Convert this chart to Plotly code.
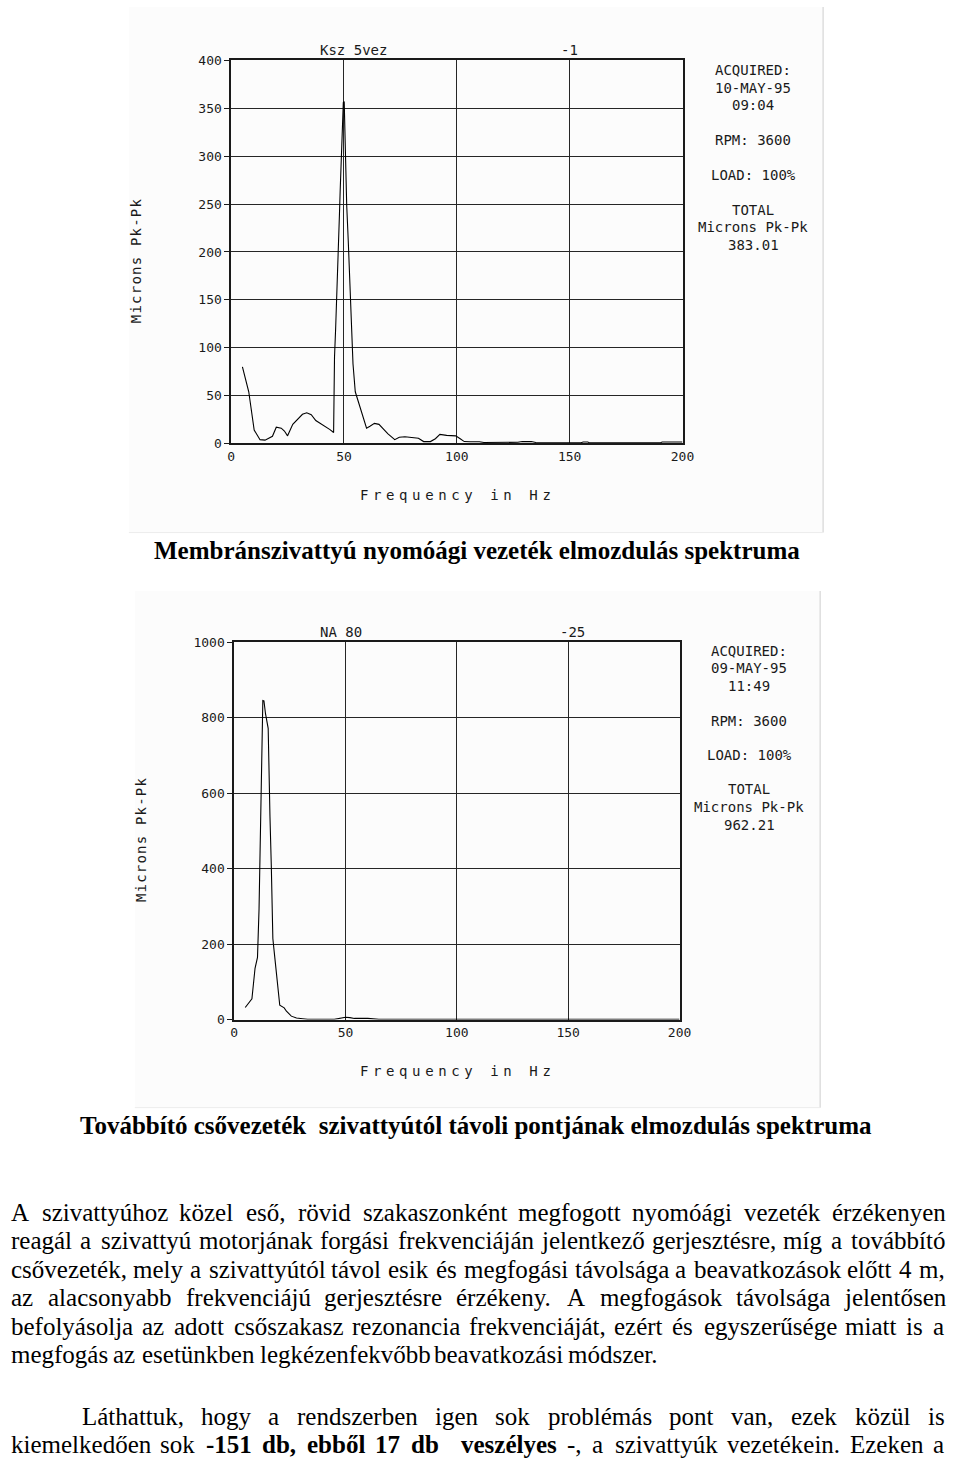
import unicodedata
import plotly.graph_objects as go

W, H = 960, 1468

# ---------------- data ----------------
freq1 = [5.0, 7.8, 10.2, 12.8, 15.0, 17.0, 18.3, 20.0, 22.2, 23.6, 25.0, 27.3, 29.6, 31.6, 33.5,
         35.5, 37.5, 39.5, 41.7, 43.8, 45.4, 45.8, 46.3, 46.8, 47.4, 48.0, 48.3, 48.8, 49.1, 49.7,
         50.1, 50.4, 51.2, 51.9, 52.3, 53.3, 54.0, 55.0, 57.5, 60.0, 61.5, 63.5, 65.5, 67.5, 69.5,
         72.5, 74.5, 77.0, 80.5, 83.0, 85.3, 88.3, 90.5, 92.5, 95.5, 99.5, 101.5, 103.3, 106.0,
         110.0, 112.0, 118.0, 120.0, 127.0, 129.0, 133.0, 135.0, 140.0, 150.0, 155.0, 156.0, 158.0,
         159.0, 172.0, 173.0, 175.0, 176.0, 190.0, 191.0, 197.0, 198.0, 200.0]
amp1 = [80, 54, 14, 4, 3.5, 6, 7.5, 17, 16, 13, 8, 20, 26, 30.5, 32,
        30, 24, 21, 18.5, 14.5, 11.5, 90, 120, 163, 200, 240, 263, 296, 327, 356,
        357, 321, 249, 211, 187, 128, 83, 54, 35, 16, 18, 21, 20, 15, 10,
        4, 6.5, 7, 6.5, 5.5, 2, 2, 5, 9.5, 8.5, 8, 5, 2, 1.8,
        1.8, 1, 1, 1.3, 1.3, 2, 2, 1, 0.8, 0.7, 0.8, 1.5, 1.5,
        0.6, 0.6, 1.3, 1.3, 0.6, 0.6, 1.5, 1.5, 1, 1.5]

freq2 = [5.0, 8.0, 9.4, 10.5, 11.2, 11.6, 12.2, 12.5, 12.9, 13.4, 14.1, 15.3, 15.6, 16.1, 16.7,
         17.4, 18.0, 18.9, 20.5, 22.5, 23.5, 25.7, 28.0, 30.8, 33.0, 45.0, 47.0, 50.0, 52.0, 54.0,
         60.0, 63.0, 65.0, 200.0]
amp2 = [32, 55, 136, 165, 294, 425, 575, 711, 846, 845, 811, 772, 654, 539, 408,
        215, 180, 127, 38, 31, 22, 9, 4, 2, 0.5, 0.5, 3, 6, 5, 3,
        3, 2, 0.5, 0.5]

x_ticks = [0, 50, 100, 150, 200]
y_ticks1 = [0, 50, 100, 150, 200, 250, 300, 350, 400]
y_ticks2 = [0, 200, 400, 600, 800, 1000]

title1 = ["Ksz 5vez", "-1"]
title2 = ["NA 80", "-25"]
info1 = ["ACQUIRED:", "10-MAY-95", "09:04", "RPM: 3600", "LOAD: 100%", "TOTAL", "Microns Pk-Pk", "383.01"]
info2 = ["ACQUIRED:", "09-MAY-95", "11:49", "RPM: 3600", "LOAD: 100%", "TOTAL", "Microns Pk-Pk", "962.21"]
y_title = "Microns Pk-Pk"
x_title = "Frequency in Hz"

caption1 = "Membránszivattyú nyomóági vezeték elmozdulás spektruma"
caption2 = "Továbbító csővezeték\u00a0 szivattyútól távoli pontjának elmozdulás spektruma"

para_lines = [
    ("A szivattyúhoz közel eső, rövid szakaszonként megfogott nyomóági vezeték érzékenyen", True),
    ("reagál a szivattyú motorjának forgási frekvenciáján jelentkező gerjesztésre, míg a továbbító", True),
    ("csővezeték, mely a szivattyútól távol esik és megfogási távolsága a beavatkozások előtt 4 m,", True),
    ("az alacsonyabb frekvenciájú gerjesztésre érzékeny. A megfogások távolsága jelentősen", True),
    ("befolyásolja az adott csőszakasz rezonancia frekvenciáját, ezért és egyszerűsége miatt is a", True),
    ("megfogás az esetünkben legkézenfekvőbb beavatkozási módszer.", False),
    ("Láthattuk, hogy a rendszerben igen sok problémás pont van, ezek közül is", True),
    ("kiemelkedően sok **-151 db, ebből 17 db  veszélyes** -, a szivattyúk vezetékein. Ezeken a", True),
]

# ---------------- helpers ----------------
def px(x):
    return x / W


def py(y):
    return 1 - y / H


REG = dict(zip("abcdefghijklmnopqrstuvwxyz",
               [444, 500, 444, 500, 444, 333, 500, 500, 278, 278, 500, 278, 778, 500, 500, 500, 500,
                333, 389, 278, 500, 500, 722, 500, 500, 444]))
REG.update(dict(zip("ABCDEFGHIJKLMNOPQRSTUVWXYZ",
                    [722, 667, 667, 722, 611, 556, 722, 722, 333, 389, 722, 611, 889, 722, 722, 556,
                     722, 667, 556, 611, 722, 722, 944, 722, 722, 611])))
REG.update({" ": 250, ",": 250, ".": 250, "-": 333, ":": 278})
REG.update({d: 500 for d in "0123456789"})
BOLD = dict(zip("abcdefghijklmnopqrstuvwxyz",
                [500, 556, 444, 556, 444, 333, 500, 556, 278, 333, 556, 278, 833, 556, 500, 556, 556,
                 444, 389, 333, 556, 500, 722, 500, 500, 444]))
BOLD.update(dict(zip("ABCDEFGHIJKLMNOPQRSTUVWXYZ",
                     [722, 667, 722, 722, 667, 611, 778, 778, 389, 500, 778, 667, 944, 722, 778, 611,
                      778, 722, 556, 667, 722, 722, 1000, 722, 722, 667])))
BOLD.update({" ": 250, ",": 250, ".": 250, "-": 333, ":": 333})
BOLD.update({d: 500 for d in "0123456789"})

FS = 25


def text_width(word, bold):
    table = BOLD if bold else REG
    total = 0
    for ch in word:
        base = unicodedata.normalize("NFD", ch)[0]
        total += table.get(base, 500)
    return total * FS / 1000.0


def tokenize(line):
    toks = []
    pending = 0
    for i, part in enumerate(line.split("**")):
        bold = i % 2 == 1
        cur = ""
        for ch in part:
            if ch == " ":
                if cur:
                    toks.append([cur, bold, pending])
                    cur = ""
                    pending = 0
                pending += 1
            else:
                cur += ch
        if cur:
            toks.append([cur, bold, pending])
            pending = 0
    if toks:
        toks[0][2] = 0
    return toks


# ---------------- figure ----------------
fig = go.Figure()
fig.add_trace(go.Scatter(x=freq1, y=amp1, mode="lines", line=dict(color="black", width=1.1),
                         xaxis="x", yaxis="y", showlegend=False, hoverinfo="skip"))
fig.add_trace(go.Scatter(x=freq2, y=amp2, mode="lines", line=dict(color="black", width=1.1),
                         xaxis="x2", yaxis="y2", showlegend=False, hoverinfo="skip"))

chart_font = dict(family="DejaVu Sans Mono", size=13, color="#1a1a1a")
axis_common = dict(showline=True, mirror=True, linecolor="#1a1a1a", linewidth=1.5,
                   showgrid=True, gridcolor="#262626", gridwidth=1, zeroline=False,
                   tickfont=chart_font, fixedrange=True)

C1 = dict(x0=231, x1=690, y0=441, y1=54)
C2 = dict(x0=234, x1=687, y0=1023, y1=642)

fig.update_layout(
    width=W, height=H,
    margin=dict(l=0, r=0, t=0, b=0),
    paper_bgcolor="white", plot_bgcolor="white",
    xaxis=dict(domain=[px(C1["x0"]), px(C1["x1"])], range=[0, 200], tickvals=x_ticks,
               anchor="y", ticks="", **axis_common),
    yaxis=dict(domain=[py(C1["y0"]), py(C1["y1"])], range=[0, 400], tickvals=y_ticks1,
               anchor="x", ticks="outside", ticklen=5, tickcolor="#1a1a1a", **axis_common),
    xaxis2=dict(domain=[px(C2["x0"]), px(C2["x1"])], range=[0, 200], tickvals=x_ticks,
                anchor="y2", ticks="", **axis_common),
    yaxis2=dict(domain=[py(C2["y0"]), py(C2["y1"])], range=[0, 1000], tickvals=y_ticks2,
                anchor="x2", ticks="outside", ticklen=5, tickcolor="#1a1a1a", **axis_common),
)

shapes = []
# faint scanned-image frames
for (l, t, r, b) in [(127, 0, 833, 531), (133, 590, 830, 1112)]:
    shapes.append(dict(type="rect", xref="paper", yref="paper", x0=px(l), x1=px(r), y0=py(b), y1=py(t),
                       line=dict(width=0), fillcolor="#fcfcfc", layer="below"))
    shapes.append(dict(type="line", xref="paper", yref="paper", x0=px(r), x1=px(r), y0=py(b), y1=py(t),
                       line=dict(color="#dedede", width=1.5)))
    shapes.append(dict(type="line", xref="paper", yref="paper", x0=px(l), x1=px(r), y0=py(b), y1=py(b),
                       line=dict(color="#ececec", width=1)))
fig.update_layout(shapes=shapes)

ann = []


def add_text(text, x, y, size=14, family="DejaVu Sans Mono", xanchor="center", angle=0, color="#1a1a1a"):
    ann.append(dict(text=text, x=px(x), y=py(y), xref="paper", yref="paper", showarrow=False,
                    xanchor=xanchor, yanchor="middle", textangle=angle, borderpad=0,
                    font=dict(family=family, size=size, color=color)))


# chart 1 texts
add_text(title1[0], 355, 43)
add_text(title1[1], 575, 43)
for s, yy in zip(info1, [64, 82, 99, 134, 170, 205, 222, 240]):
    add_text(s, 762, yy)
add_text('<span style="letter-spacing:1.2px">' + y_title + '</span>', 135, 256, angle=-90)
add_text('<span style="letter-spacing:4.6px">' + x_title + '</span>', 461, 493)

# chart 2 texts
add_text(title2[0], 343, 631)
add_text(title2[1], 578, 631)
for s, yy in zip(info2, [651, 668, 686, 721, 756, 790, 808, 826]):
    add_text(s, 758, yy)
add_text('<span style="letter-spacing:1.2px">' + y_title + '</span>', 140, 841, angle=-90)
add_text('<span style="letter-spacing:4.6px">' + x_title + '</span>', 461, 1075)

# captions
add_text("<b>" + caption1 + "</b>", 481, 549, size=FS, family="Liberation Serif", color="black")
add_text("<b>" + caption2 + "</b>", 480, 1130, size=FS, family="Liberation Serif", color="black")

# justified paragraph
baselines = [1226, 1254.8, 1283.6, 1312.4, 1341.2, 1370, 1432, 1460.8]
starts = [6, 6, 6, 6, 6, 6, 78, 6]
RIGHT = 955
for (line, justify), base, left in zip(para_lines, baselines, starts):
    toks = tokenize(line)
    widths = [text_width(w, b) for w, b, _ in toks]
    gaps = sum(g for _, _, g in toks)
    if justify and gaps:
        sp = (RIGHT - left - sum(widths)) / gaps
    else:
        sp = 7.0
    x = left
    ycen = base - 8.4
    for (w, b, g), wd in zip(toks, widths):
        x += g * sp
        t = "<b>" + w + "</b>" if b else w
        add_text(t, x, ycen, size=FS, family="Liberation Serif", xanchor="left", color="black")
        x += wd

fig.update_layout(annotations=ann)
fig.write_html("out.html")
